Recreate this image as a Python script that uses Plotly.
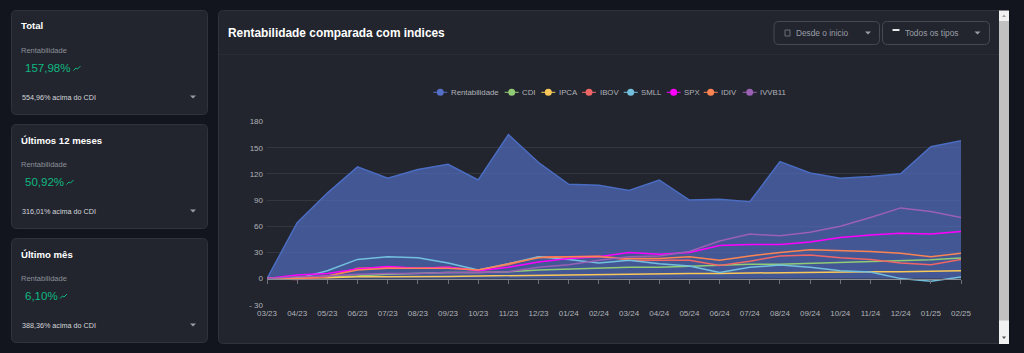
import plotly.graph_objects as go

W, H = 1024, 353

months = ["03/23","04/23","05/23","06/23","07/23","08/23","09/23","10/23","11/23","12/23","01/24","02/24",
          "03/24","04/24","05/24","06/24","07/24","08/24","09/24","10/24","11/24","12/24","01/25","02/25"]
rentabilidade = [0,64,98,128,115,125,131,113,165,133,108,107,101,113,90,91,88,134,121,115,117,120,151,158]
cdi    = [0,1,2,3,5,6,7,7,8,10,11,12,13,13,14,15,16.5,16.5,17.5,18,19,20.5,21.5,23.5]
ipca   = [0,1,1,2,2,2,2.5,3,3.5,4,4.5,5,5.5,6,6,6,6.5,6.5,7,7.5,8,8,8.5,9]
ibov   = [0,-1,2,12,13,12,13,10,16,25,25,26,21,21,21,15,20,26,27,24,22,18,16,22]
smll   = [0,0,9,22,25,24,18,10,17,25,22,18,21,17,14.5,7,13,15.5,13,9,7.5,0,-3,2]
spx    = [0,4,6,11,14,12,13,9,13,19,23,25,30,28,30,38,39,39,42,47,50,52,51,54]
idiv   = [0,0,3,10,12,12,12,10,17,24,25,25,23,23,25,21,26,30,33,32,31,29,25,29]
ivvb11 = [0,2,3,5,6,6,7,7,8,13,16,21,25,26,31,43,51,49,53,60,70,81,77,70]
y_ticks = [-30,0,30,60,90,120,150,180]
y_labels = ["- 30","0","30","60","90","120","150","180"]

cards = [("Total","157,98%","554,96% acima do CDI"),
         ("Últimos 12 meses","50,92%","316,01% acima do CDI"),
         ("Último mês","6,10%","388,36% acima do CDI")]
series = [("CDI",cdi,"#91cc75"),("IPCA",ipca,"#fac858"),("IBOV",ibov,"#ee6666"),("SMLL",smll,"#73c0de"),
          ("SPX",spx,"#ff00ff"),("IDIV",idiv,"#fc8452"),("IVVB11",ivvb11,"#9a60b4")]
legend_items = [("Rentabilidade","#5470c6",440.3,451),("CDI","#91cc75",511.7,522.3),("IPCA","#fac858",548.3,559),
                ("IBOV","#ee6666",589,599.7),("SMLL","#73c0de",630.7,641),("SPX","#ff00ff",673.7,684),
                ("IDIV","#fc8452",710.7,721),("IVVB11","#9a60b4",749.7,759.7)]

FONT = "Liberation Sans, Arial, sans-serif"
BG, CARD, BORDER = "#12151e", "#22252e", "#30333c"
GREEN = "#10b981"
TICK = "#b0b2b8"

px = lambda x: x / W
py = lambda y: 1 - y / H

def rrect(x0, y0, x1, y1, r, fill, line=None, w=1):
    p = (f"M {px(x0+r)} {py(y0)} L {px(x1-r)} {py(y0)} Q {px(x1)} {py(y0)} {px(x1)} {py(y0+r)} "
         f"L {px(x1)} {py(y1-r)} Q {px(x1)} {py(y1)} {px(x1-r)} {py(y1)} L {px(x0+r)} {py(y1)} "
         f"Q {px(x0)} {py(y1)} {px(x0)} {py(y1-r)} L {px(x0)} {py(y0+r)} Q {px(x0)} {py(y0)} {px(x0+r)} {py(y0)} Z")
    return dict(type="path", path=p, xref="paper", yref="paper", fillcolor=fill, layer="below",
                line=dict(color=line or fill, width=w))

def poly(pts, fill=None, line=None, w=1, layer="above"):
    p = "M " + " L ".join(f"{px(a)} {py(b)}" for a, b in pts)
    if fill:
        p += " Z"
    return dict(type="path", path=p, xref="paper", yref="paper", layer=layer,
                fillcolor=fill or "rgba(0,0,0,0)", line=dict(color=line or "rgba(0,0,0,0)", width=w))

def txt(x, y, s, size, color, bold=False, anchor="left"):
    return dict(x=px(x), y=py(y), xref="paper", yref="paper", text=f"<b>{s}</b>" if bold else s,
                showarrow=False, xanchor=anchor, yanchor="middle", align="left",
                font=dict(size=size, color=color, family=FONT), borderpad=0, borderwidth=0)

def rect(x0, y0, x1, y1, fill, layer="below"):
    return dict(type="rect", xref="paper", yref="paper", x0=px(x0), x1=px(x1), y0=py(y0), y1=py(y1),
                fillcolor=fill, line=dict(width=0), layer=layer)

def circle(cx, cy, r, fill):
    return dict(type="circle", xref="paper", yref="paper", x0=px(cx-r), x1=px(cx+r), y0=py(cy+r), y1=py(cy-r),
                fillcolor=fill, line=dict(width=0), layer="above")

shapes, annos = [], []
trend = lambda x, y: poly([(x, y+3), (x+2.5, y+0.5), (x+4, y+1.5), (x+7, y-1.5)], line=GREEN, w=1)
caret = lambda x, y, c="#9a9da5": poly([(x-3, y-1.5), (x+3, y-1.5), (x, y+1.5)], fill=c)

for i, (title, val, sub) in enumerate(cards):
    top = 10.5 + i * 114
    shapes.append(rrect(11.5, top, 207.5, top + 104, 5, CARD, BORDER))
    annos.append(txt(21, top + 15.5, title, 9.6, "#ffffff", True))
    annos.append(txt(20.5, top + 39.5, "Rentabilidade", 7.5, "#8b8f98"))
    annos.append(txt(24.5, top + 57.5, val, 11.5, GREEN))
    vw = {0: 47, 1: 40, 2: 33.5}[i]
    shapes.append(trend(24.5 + vw + 2, top + 57))
    annos.append(txt(22, top + 86.5, sub, 7.2, "#d5d7db"))
    shapes.append(caret(193, top + 86.5))

shapes.append(rrect(218.5, 10.5, 1003, 343.5, 5, CARD, BORDER))
shapes.append(rect(219, 54, 999, 55, "#2a2d36"))
annos.append(txt(228, 32.5, "Rentabilidade comparada com indices", 11.9, "#ffffff", True))
shapes.append(rrect(774, 21.5, 879.5, 44.5, 5, CARD, "#474a53"))
shapes.append(rrect(882.5, 21.5, 989.5, 44.5, 5, CARD, "#474a53"))
annos.append(txt(795.5, 33, "Desde o inicio", 8.3, "#9a9da5"))
annos.append(txt(904.5, 33, "Todos os tipos", 8.4, "#9a9da5"))
shapes.append(poly([(785, 30), (790, 30), (790, 36), (785, 36)], fill=CARD, line="#6b6e76"))
shapes.append(rect(892.5, 29, 899.5, 31, "#e8e8ea", "above"))
shapes.append(caret(868, 33))
shapes.append(caret(977.5, 33))

# scrollbar
shapes.append(rect(999, 10.5, 1009, 344, "#f1f1f1", "above"))
shapes.append(rect(999, 21, 1009, 320.5, "#c1c1c1", "above"))
shapes.append(poly([(1002, 17), (1006, 17), (1004, 14.5)], fill="#a3a3a3"))
shapes.append(poly([(1002, 336.5), (1006, 336.5), (1004, 339)], fill="#505050"))

# hand-placed legend: Plotly's own legend cannot draw keys this short
LEG_Y = 92.3
for name, color, cx, tx in legend_items:
    shapes.append(rect(cx - 7, LEG_Y - 0.5, cx + 7, LEG_Y + 0.5, color, "above"))
    shapes.append(circle(cx, LEG_Y, 3.5, color))
    annos.append(txt(tx, LEG_Y, name, 7.8, TICK))

fig = go.Figure()
fig.add_trace(go.Scatter(x=months, y=rentabilidade, name="Rentabilidade", mode="lines",
                         line=dict(color="#4a6cc2", width=1.5),
                         fill="tozeroy", fillcolor="rgba(80,107,190,0.72)"))
for name, vals, color in series:
    fig.add_trace(go.Scatter(x=months, y=vals, name=name, mode="lines", line=dict(color=color, width=1.5)))
# tick marks sitting on the zero line
fig.add_trace(go.Scatter(x=months, y=[None] * len(months), xaxis="x2", showlegend=False, hoverinfo="skip"))

fig.update_layout(
    width=W, height=H, autosize=False,
    margin=dict(l=0, r=0, t=0, b=0, autoexpand=False),
    paper_bgcolor=BG, plot_bgcolor="rgba(0,0,0,0)",
    font=dict(family=FONT, size=8, color=TICK),
    shapes=shapes, annotations=annos,
    showlegend=False,
    xaxis=dict(domain=[px(267), px(961)], type="category", categoryorder="array", categoryarray=months,
               range=[0, 23], showgrid=False, zeroline=False, showline=False, ticks="", ticklen=0,
               tickangle=0, tickfont=dict(size=8, color=TICK), anchor="y", ticklabelstandoff=2),
    xaxis2=dict(overlaying="x", matches="x", type="category", anchor="free", position=py(278.5), side="bottom",
                showticklabels=False, ticks="outside", ticklen=4, tickcolor="#6e7079", tickwidth=1,
                showline=True, linecolor="#8a8c94", linewidth=1, showgrid=False, zeroline=False),
    yaxis=dict(domain=[py(304.8), py(121.5)], range=[-30, 180], tickvals=y_ticks, ticktext=y_labels,
               gridcolor="#33363f", gridwidth=1, zeroline=False, showline=False, ticks="",
               tickfont=dict(size=8, color=TICK), ticklabelstandoff=3),
)

fig.write_html("out.html", config={"displayModeBar": False},
               post_script="document.body.style.margin='0';document.body.style.background='#12151e';document.body.style.overflow='hidden';")
